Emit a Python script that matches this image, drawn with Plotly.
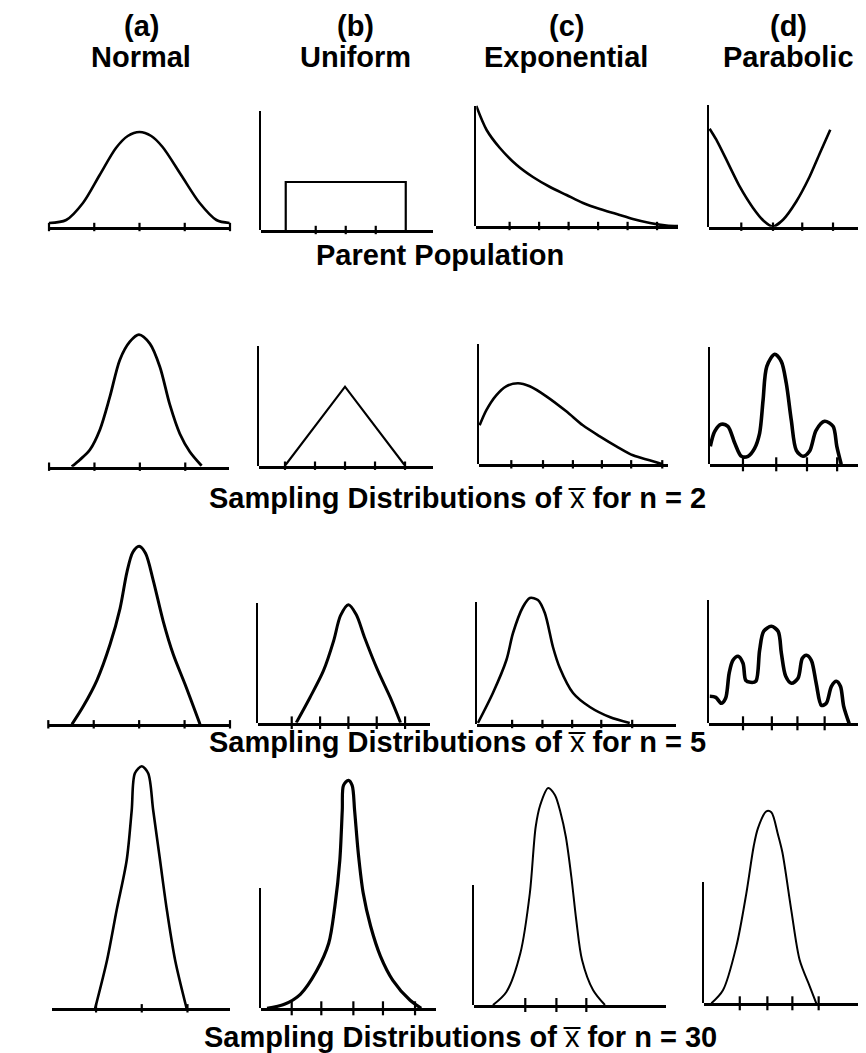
import plotly.graph_objects as go

# page body has an 8px margin: figure is sized to fit the remaining window
OX, OY = 8, 8
W, H = 858, 1045

# ---------------- data ----------------
# x values are positions along each panel's axis (tick units), y values are relative heights
col_titles = ["(a)<br>Normal", "(b)<br>Uniform", "(c)<br>Exponential", "(d)<br>Parabolic"]
row_labels = ["Parent Population",
              "Sampling Distributions of x\u0305 for n = 2",
              "Sampling Distributions of x\u0305 for n = 5",
              "Sampling Distributions of x\u0305 for n = 30"]

# Row 1: parent populations
norm_p_x = [-2.0, -1.62, -1.25, -0.88, -0.52, -0.26, 0.0, 0.26, 0.51, 0.92, 1.33, 1.70, 1.99]
norm_p_y = [0.04, 0.07, 0.24, 0.52, 0.79, 0.91, 0.95, 0.91, 0.80, 0.52, 0.24, 0.07, 0.04]
unif_p_x = [0.0, 0.0, 1.0, 1.0]
unif_p_y = [0.0, 0.48, 0.48, 0.0]
expo_p_x = [0.0, 0.35, 0.80, 1.37, 1.92, 2.50, 3.06, 3.62, 4.19, 4.76, 5.31, 5.89, 6.45, 6.84]
expo_p_y = [1.20, 0.96, 0.78, 0.61, 0.49, 0.39, 0.31, 0.23, 0.17, 0.12, 0.07, 0.03, 0.005, 0.0]
para_p_x = [0.03, 0.25, 0.58, 1.02, 1.45, 1.80, 2.11, 2.44, 2.87, 3.31, 3.64, 3.99]
para_p_y = [0.98, 0.87, 0.67, 0.40, 0.19, 0.06, 0.0, 0.07, 0.25, 0.50, 0.73, 0.97]

# Row 2: n = 2
norm_2_x = [-1.50, -1.32, -1.10, -0.88, -0.66, -0.44, -0.22, -0.02, 0.22, 0.44, 0.66, 0.88, 1.10, 1.36]
norm_2_y = [0.0, 0.07, 0.17, 0.37, 0.70, 1.07, 1.25, 1.32, 1.23, 1.00, 0.62, 0.33, 0.15, 0.01]
unif_2_x = [0.0, 0.5, 1.0]
unif_2_y = [0.0, 0.79, 0.0]
expo_2_x = [0.03, 0.25, 0.58, 0.91, 1.30, 1.69, 2.24, 2.90, 3.45, 4.01, 4.56, 5.11, 5.66, 6.10]
expo_2_y = [0.39, 0.54, 0.69, 0.78, 0.81, 0.78, 0.68, 0.53, 0.39, 0.28, 0.18, 0.09, 0.04, 0.0]
para_2_x = [0.02, 0.16, 0.37, 0.58, 0.80, 1.01, 1.22, 1.43, 1.59, 1.70, 1.82, 2.07, 2.28, 2.44,
            2.60, 2.76, 2.97, 3.18, 3.39, 3.66, 3.93, 4.05, 4.19]
para_2_y = [0.18, 0.33, 0.40, 0.38, 0.21, 0.08, 0.08, 0.16, 0.31, 0.64, 0.98, 1.10, 1.03, 0.81,
            0.44, 0.14, 0.08, 0.13, 0.34, 0.43, 0.38, 0.18, 0.0]

# Row 3: n = 5
norm_5_x = [-1.48, -1.23, -0.93, -0.64, -0.42, -0.27, -0.14, 0.0, 0.14, 0.31, 0.53, 0.75, 1.01, 1.34]
norm_5_y = [0.0, 0.18, 0.44, 0.80, 1.16, 1.52, 1.72, 1.78, 1.71, 1.44, 1.03, 0.70, 0.40, 0.0]
unif_5_x = [0.04, 0.16, 0.28, 0.37, 0.43, 0.50, 0.57, 0.64, 0.76, 0.87, 0.96]
unif_5_y = [0.0, 0.25, 0.52, 0.82, 1.07, 1.18, 1.08, 0.86, 0.52, 0.25, 0.0]
expo_5_x = [0.03, 0.53, 0.98, 1.20, 1.53, 1.76, 2.03, 2.26, 2.53, 2.76, 3.20, 3.76, 4.42, 5.09]
expo_5_y = [0.01, 0.31, 0.64, 0.91, 1.17, 1.26, 1.24, 1.11, 0.77, 0.56, 0.31, 0.17, 0.07, 0.01]
para_5_x = [0.03, 0.25, 0.45, 0.61, 0.74, 0.88, 1.07, 1.25, 1.35, 1.52, 1.72, 1.86, 2.01, 2.29,
            2.54, 2.66, 2.82, 3.03, 3.27, 3.43, 3.58, 3.76, 3.94, 4.13, 4.31, 4.50, 4.68, 4.83,
            4.95, 5.15]
para_5_y = [0.27, 0.26, 0.20, 0.25, 0.50, 0.63, 0.67, 0.60, 0.43, 0.41, 0.42, 0.73, 0.92, 0.97,
            0.92, 0.70, 0.47, 0.40, 0.45, 0.65, 0.68, 0.63, 0.40, 0.18, 0.20, 0.37, 0.42, 0.37,
            0.17, 0.0]

# Row 4: n = 30
norm_30_x = [-1.02, -0.76, -0.55, -0.33, -0.22, -0.15, 0.0, 0.14, 0.25, 0.40, 0.55, 0.73, 0.98]
norm_30_y = [0.0, 0.48, 0.98, 1.48, 1.98, 2.35, 2.42, 2.35, 1.98, 1.48, 0.98, 0.48, 0.0]
unif_30_x = [-0.20, -0.06, 0.07, 0.20, 0.30, 0.35, 0.39, 0.41, 0.42, 0.46, 0.49, 0.51, 0.54,
             0.58, 0.64, 0.72, 0.82, 0.96, 1.05]
unif_30_y = [0.0, 0.04, 0.14, 0.37, 0.65, 1.02, 1.48, 1.98, 2.23, 2.28, 2.23, 1.98, 1.55,
             1.15, 0.82, 0.52, 0.28, 0.08, 0.0]
expo_30_x = [0.62, 1.06, 1.52, 1.83, 2.02, 2.17, 2.43, 2.65, 2.83, 3.01, 3.19, 3.35, 3.54, 3.90, 4.29]
expo_30_y = [0.0, 0.13, 0.52, 1.12, 1.78, 2.00, 2.17, 2.10, 1.93, 1.68, 1.28, 0.85, 0.45, 0.15, 0.0]
para_30_x = [0.28, 0.72, 1.23, 1.61, 1.89, 2.05, 2.37, 2.56, 2.81, 2.98, 3.32, 3.64, 4.02, 4.27]
para_30_y = [0.0, 0.13, 0.57, 1.10, 1.57, 1.75, 1.92, 1.91, 1.69, 1.51, 0.93, 0.43, 0.17, 0.0]

# tick positions along each axis
norm_ticks = [-2, -1, 0, 1, 2]
unif_ticks_p = [0.25, 0.5, 0.75]
unif_ticks = [0.0, 0.25, 0.5, 0.75, 1.0]
unif_ticks_30 = [0.0, 0.24, 0.50, 0.74, 1.0]
expo_ticks_p = [1.13, 2.13, 3.13, 4.13, 5.13, 6.13]
expo_ticks_2 = [1.08, 2.13, 3.12, 4.08, 5.05, 6.08]
expo_ticks_5 = [1.17, 2.18, 3.17, 4.14, 5.17]
expo_ticks_30 = [1.68, 2.70, 3.68]
para_ticks_p = [1.07, 2.11, 3.07, 4.08]
para_ticks_2 = [1.06, 2.12, 3.10, 4.06]
para_ticks_5 = [1.25, 2.31, 3.25, 4.25]
para_ticks_30 = [1.36, 2.41, 3.36, 4.36]

# ---------------- panel placement / styling (reference pixels) ----------------
panels = [
    # row 1
    dict(x=norm_p_x, y=norm_p_y, t=norm_ticks, sh="spline", sm=0.85, lw=2.6, tl=6,
         L=49, R=230, B=227, AT=None, ur=[-2.0, 2.0], ym=1.3),
    dict(x=unif_p_x, y=unif_p_y, t=unif_ticks_p, sh="linear", sm=0, lw=2.2, tl=6,
         L=261, R=433, B=230, AT=111, ur=[-0.206, 1.227], ym=1.3),
    dict(x=expo_p_x, y=expo_p_y, t=expo_ticks_p, sh="spline", sm=0.85, lw=2.6, tl=6,
         L=476.3, R=678, B=226, AT=106, ur=[0, 6.84], ym=1.3),
    dict(x=para_p_x, y=para_p_y, t=para_ticks_p, sh="spline", sm=0.6, lw=2.6, tl=6,
         L=708.7, R=858, B=226.7, AT=105, ur=[0, 4.9], ym=1.3),
    # row 2
    dict(x=norm_2_x, y=norm_2_y, t=norm_ticks, sh="spline", sm=0.85, lw=2.8, tl=6,
         L=47.7, R=229.3, B=466.7, AT=None, ur=[-2.03, 1.97], ym=1.45),
    dict(x=unif_2_x, y=unif_2_y, t=unif_ticks, sh="linear", sm=0, lw=2.2, tl=6,
         L=259.3, R=433, B=465.7, AT=346, ur=[-0.214, 1.233], ym=1.45),
    dict(x=expo_2_x, y=expo_2_y, t=expo_ticks_2, sh="spline", sm=0.85, lw=2.6, tl=6,
         L=478.7, R=668, B=464.3, AT=344, ur=[0, 6.27], ym=1.45),
    dict(x=para_2_x, y=para_2_y, t=para_ticks_2, sh="spline", sm=0.85, lw=3.6, tl=10,
         L=709.7, R=866, B=464.3, AT=346.7, ur=[0, 4.98], ym=1.45),
    # row 3
    dict(x=norm_5_x, y=norm_5_y, t=norm_ticks, sh="spline", sm=0.85, lw=3.0, tl=6,
         L=48.3, R=230, B=724.3, AT=None, ur=[-2.0, 2.0], ym=1.85),
    dict(x=unif_5_x, y=unif_5_y, t=unif_ticks, sh="spline", sm=0.85, lw=3.0, tl=9,
         L=258.3, R=430, B=722.7, AT=602.7, ur=[-0.295, 1.22], ym=1.85),
    dict(x=expo_5_x, y=expo_5_y, t=expo_ticks_5, sh="spline", sm=0.85, lw=2.6, tl=6,
         L=477, R=676.3, B=724, AT=601.7, ur=[0, 6.64], ym=1.85),
    dict(x=para_5_x, y=para_5_y, t=para_ticks_5, sh="spline", sm=0.85, lw=3.6, tl=10,
         L=709, R=866, B=723.3, AT=600, ur=[0, 5.77], ym=1.85),
    # row 4
    dict(x=norm_30_x, y=norm_30_y, t=norm_ticks, sh="spline", sm=0.85, lw=2.6, tl=6,
         L=51.7, R=230, B=1008.3, AT=None, ur=[-1.97, 1.93], ym=2.5),
    dict(x=unif_30_x, y=unif_30_y, t=unif_ticks_30, sh="spline", sm=0.85, lw=3.2, tl=10,
         L=261, R=436, B=1008.3, AT=888.3, ur=[-0.249, 1.17], ym=2.5),
    dict(x=expo_30_x, y=expo_30_y, t=expo_ticks_30, sh="spline", sm=0.85, lw=2.0, tl=10,
         L=474, R=666.3, B=1005, AT=885, ur=[0, 6.30], ym=2.5),
    dict(x=para_30_x, y=para_30_y, t=para_ticks_30, sh="spline", sm=0.85, lw=2.0, tl=10,
         L=704, R=866, B=1003.3, AT=881.7, ur=[0, 6.16], ym=2.5),
]


def fx(px):
    return min(max((px - OX) / W, 0.0), 1.0)


def fy(py):
    return min(max(1 - (py - OY) / H, 0.0), 1.0)


fig = go.Figure()
layout = {}
extra = 17
for i, p in enumerate(panels, start=1):
    xa = "x" if i == 1 else f"x{i}"
    ya = "y" if i == 1 else f"y{i}"
    xk = "xaxis" if i == 1 else f"xaxis{i}"
    yk = "yaxis" if i == 1 else f"yaxis{i}"
    line = dict(color="black", width=p["lw"], shape=p["sh"])
    if p["sh"] == "spline":
        line["smoothing"] = p["sm"]
    fig.add_trace(go.Scatter(
        x=p["x"], y=p["y"], mode="lines", line=line,
        xaxis=xa, yaxis=ya, hoverinfo="skip", showlegend=False))
    fig.add_trace(go.Scatter(
        x=p["t"], y=[0] * len(p["t"]), mode="markers",
        marker=dict(symbol="line-ns-open", size=p["tl"], color="black",
                    line=dict(color="black", width=2.2)),
        cliponaxis=False, xaxis=xa, yaxis=ya, hoverinfo="skip", showlegend=False))
    layout[xk] = dict(domain=[fx(p["L"]), fx(p["R"])], range=p["ur"], anchor=ya,
                      showline=True, linewidth=2.6, linecolor="black",
                      showgrid=False, zeroline=False, showticklabels=False,
                      ticks="", fixedrange=True)
    layout[yk] = dict(domain=[fy(p["B"]), fy(p["B"] - p["ym"] * 100)],
                      range=[0, p["ym"]], anchor=xa, visible=False, fixedrange=True)
    if p["AT"] is not None:
        ya2 = f"y{extra}"
        # invisible anchor point so the vertical axis line is rendered
        fig.add_trace(go.Scatter(x=[p["ur"][0]], y=[0], mode="markers",
                                 marker=dict(opacity=0, size=1),
                                 xaxis=xa, yaxis=ya2, hoverinfo="skip",
                                 showlegend=False))
        layout[f"yaxis{extra}"] = dict(domain=[fy(p["B"]), fy(p["AT"])],
                                       range=[0, 1], anchor=xa, showline=True,
                                       linewidth=2.2, linecolor="black",
                                       showgrid=False, zeroline=False,
                                       showticklabels=False, ticks="",
                                       fixedrange=True)
        extra += 1

FONT = "Liberation Sans, Arial, sans-serif"
FS = 29
annotations = []
col_x = [141, 355, 566, 788]
for cx, t in zip(col_x, col_titles):
    top, bottom = t.split("<br>")
    annotations.append(dict(x=fx(cx), y=fy(26), xref="paper", yref="paper",
                            text=f"<b>{top}</b>", showarrow=False,
                            font=dict(family=FONT, size=FS, color="black"),
                            xanchor="center", yanchor="middle"))
    annotations.append(dict(x=fx(cx), y=fy(57), xref="paper", yref="paper",
                            text=f"<b>{bottom}</b>", showarrow=False,
                            font=dict(family=FONT, size=FS, color="black"),
                            xanchor="center", yanchor="middle"))

row_y = [255, 498, 742, 1037]
row_x = [440, 457, 457, 460]
for rx, ry, lab in zip(row_x, row_y, row_labels):
    if "x\u0305" in lab:
        a, b = lab.split("x\u0305")
        txt = f"<b>{a}</b>x\u0305<b>{b}</b>"
    else:
        txt = f"<b>{lab}</b>"
    annotations.append(dict(x=fx(rx), y=fy(ry), xref="paper", yref="paper",
                            text=txt, showarrow=False,
                            font=dict(family=FONT, size=FS, color="black"),
                            xanchor="center", yanchor="middle"))

fig.update_layout(
    width=W, height=H, margin=dict(l=0, r=0, t=0, b=0),
    paper_bgcolor="white", plot_bgcolor="rgba(0,0,0,0)",
    showlegend=False, annotations=annotations, **layout)

fig.write_html("out.html")
